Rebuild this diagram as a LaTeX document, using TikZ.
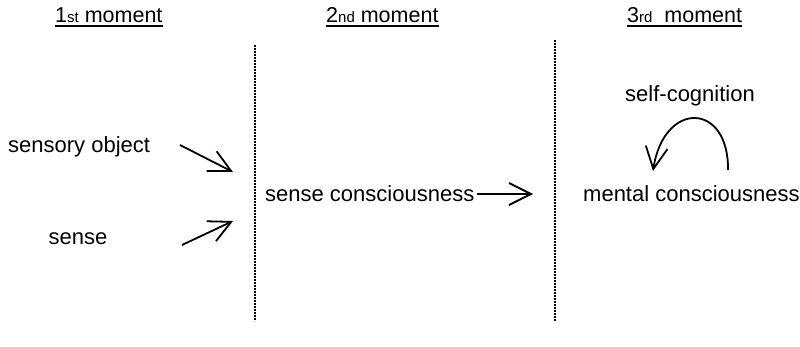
\documentclass[tikz,border=0pt]{standalone}
\usepackage{fontspec}
\setmainfont{Liberation Sans}
\usetikzlibrary{arrows.meta,calc}
\newcommand{\smallsup}[1]{{\fontsize{15}{15}\selectfont #1}}
\tikzset{
  lbl/.style={inner sep=0pt, font=\fontsize{22}{26}\selectfont},
  head/.style={inner sep=0pt, font=\fontsize{21.5}{26}\selectfont},
  uline/.style={line width=1.3pt},
  divider/.style={line width=1.6pt, dash pattern=on 1.6pt off 1.4pt},
  flow/.style={line width=1.8pt, -{Straight Barb[length=22pt,width=22pt]}}
}
\begin{document}
\begin{tikzpicture}[x=1pt,y=-1pt]
\useasboundingbox (0,0) rectangle (800,347);
% headings
\node[head, anchor=base west] (h1) at (55,23) {1\smallsup{st} moment};
\node[head, anchor=base west] (h2) at (326,23) {2\smallsup{nd} moment};
\node[head, anchor=base west] (h3) at (627,23) {3\smallsup{rd}\ \ moment};
\foreach \h in {h1,h2,h3}{
  \draw[uline] ($(\h.base west)+(0,3)$) -- ($(\h.base east)+(0,3)$);
}
% dividers
\coordinate (d1t) at (255,45);
\coordinate (d1b) at (255,321);
\coordinate (d2t) at (555,40);
\coordinate (d2b) at (555,321);
\draw[divider] (d1t) -- (d1b);
\draw[divider] (d2t) -- (d2b);
% labels
\node[lbl, anchor=base west] (so) at (8,153) {sensory object};
\node[lbl, anchor=base] (se) at (78,245) {sense};
\node[lbl, anchor=base west] (sc) at (265,202) {sense consciousness};
\node[lbl, anchor=base west] (mc) at (583,202) {mental consciousness};
\node[lbl, anchor=base] (cog) at (690,102) {self-cognition};
% arrow ends
\coordinate (a1s) at (180,145);
\coordinate (a1e) at (233,172);
\coordinate (a2s) at (182,245);
\coordinate (a2e) at (233,221);
\coordinate (a3s) at (477,194);
\coordinate (a3e) at (533,194);
\coordinate (cs) at (728,170);
\coordinate (ce) at (653,171);
\draw[flow] (a1s) -- (a1e);
\draw[flow] (a2s) -- (a2e);
\draw[flow] (a3s) -- (a3e);
\draw[flow] (cs) .. controls (729,102) and (664,100) .. (ce);
\end{tikzpicture}
\end{document}
